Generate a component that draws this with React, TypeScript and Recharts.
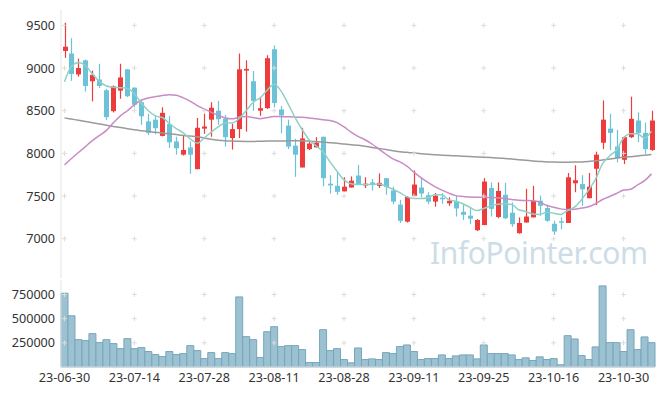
import React from 'react';
import {
  ComposedChart, Bar, Line, XAxis, YAxis, ReferenceDot,
} from 'recharts';

const dates = [
  '23-06-30', '23-07-03', '23-07-04', '23-07-05', '23-07-06', '23-07-07', '23-07-10', '23-07-11', '23-07-12', '23-07-13',
  '23-07-14', '23-07-17', '23-07-18', '23-07-19', '23-07-20', '23-07-21', '23-07-24', '23-07-25', '23-07-26', '23-07-27',
  '23-07-28', '23-07-31', '23-08-01', '23-08-02', '23-08-03', '23-08-04', '23-08-07', '23-08-08', '23-08-09', '23-08-10',
  '23-08-11', '23-08-14', '23-08-16', '23-08-17', '23-08-18', '23-08-21', '23-08-22', '23-08-23', '23-08-24', '23-08-25',
  '23-08-28', '23-08-29', '23-08-30', '23-08-31', '23-09-01', '23-09-04', '23-09-05', '23-09-06', '23-09-07', '23-09-08',
  '23-09-11', '23-09-12', '23-09-13', '23-09-14', '23-09-15', '23-09-18', '23-09-19', '23-09-20', '23-09-21', '23-09-22',
  '23-09-25', '23-09-26', '23-09-27', '23-10-04', '23-10-05', '23-10-06', '23-10-10', '23-10-11', '23-10-12', '23-10-13',
  '23-10-16', '23-10-17', '23-10-18', '23-10-19', '23-10-20', '23-10-23', '23-10-24', '23-10-25', '23-10-26', '23-10-27',
  '23-10-30', '23-10-31', '23-11-01', '23-11-02', '23-11-03',
];

const opens = [
  9200, 9170, 8925, 9090, 8845, 8865, 8740, 8495, 8735, 8985,
  8770, 8600, 8375, 8395, 8205, 8345, 8140, 7985, 8070, 7815,
  8290, 8395, 8500, 8405, 8180, 8285, 8970, 8845, 8500, 8530,
  9220, 8515, 8325, 8090, 7835, 8050, 8070, 8195, 7645, 7620,
  7555, 7600, 7740, 7625, 7660, 7620, 7710, 7565, 7400, 7200,
  7500, 7600, 7510, 7435, 7480, 7415, 7435, 7315, 7270, 7100,
  7160, 7595, 7255, 7515, 7305, 7065, 7190, 7250, 7445, 7360,
  7175, 7205, 7185, 7650, 7640, 7475, 7820, 8125, 8290, 8080,
  7925, 8190, 8385, 8240, 8040,
];
const highs = [
  9530, 9350, 9110, 9100, 8970, 9050, 8755, 8795, 9050, 8990,
  8775, 8620, 8465, 8445, 8540, 8435, 8195, 8210, 8140, 8415,
  8465, 8600, 8615, 8450, 8345, 9170, 9090, 8965, 8650, 9150,
  9265, 8555, 8395, 8170, 8300, 8150, 8190, 8195, 7745, 7780,
  7720, 7730, 7865, 7720, 7700, 7765, 7710, 7610, 7455, 7500,
  7800, 7720, 7545, 7535, 7535, 7485, 7505, 7405, 7360, 7230,
  7710, 7660, 7660, 7655, 7425, 7250, 7585, 7620, 7505, 7400,
  7210, 7250, 7770, 7860, 7745, 7770, 8020, 8620, 8465, 8275,
  8200, 8665, 8480, 8360, 8500,
];
const lows = [
  9120, 8850, 8900, 8725, 8610, 8765, 8390, 8480, 8640, 8660,
  8540, 8335, 8215, 8225, 8200, 8065, 7985, 7975, 7760, 7815,
  8230, 8195, 8335, 8080, 8045, 8180, 8255, 8500, 8440, 8520,
  8540, 8235, 8050, 7725, 7835, 8040, 8070, 7615, 7530, 7515,
  7555, 7600, 7630, 7595, 7565, 7595, 7515, 7405, 7185, 7190,
  7500, 7485, 7405, 7375, 7410, 7385, 7260, 7220, 7170, 7090,
  7160, 7260, 7240, 7230, 7140, 7060, 7190, 7250, 7270, 7200,
  7045, 7110, 7185, 7545, 7385, 7475, 7395, 8050, 8040, 7895,
  7875, 8180, 8130, 7995, 8030,
];
const closes = [
  9250, 8930, 9000, 8790, 8920, 8790, 8425, 8785, 8890, 8670,
  8570, 8435, 8240, 8295, 8475, 8130, 8060, 8040, 7985, 8300,
  8315, 8535, 8400, 8190, 8285, 8985, 8990, 8615, 8530, 9115,
  8590, 8445, 8080, 7985, 8175, 8115, 8125, 7710, 7625, 7550,
  7610, 7680, 7635, 7645, 7645, 7655, 7605, 7435, 7210, 7490,
  7635, 7530, 7435, 7505, 7470, 7445, 7355, 7280, 7235, 7220,
  7670, 7350, 7560, 7240, 7170, 7185, 7260, 7445, 7385, 7210,
  7085, 7195, 7720, 7685, 7580, 7610, 7985, 8395, 8240, 7945,
  8190, 8405, 8240, 8050, 8385,
];
const volumes = [
  763000, 530000, 283000, 273000, 345000, 252000, 283000, 242000, 190000, 293000,
  190000, 201000, 160000, 129000, 108000, 160000, 129000, 139000, 221000, 170000,
  87000, 149000, 87000, 149000, 139000, 725000, 314000, 283000, 98000, 365000,
  417000, 211000, 221000, 221000, 180000, 46000, 46000, 386000, 170000, 190000,
  77000, 43000, 197000, 77000, 84000, 77000, 149000, 139000, 211000, 228000,
  160000, 77000, 87000, 87000, 125000, 87000, 115000, 125000, 125000, 84000,
  228000, 139000, 139000, 139000, 125000, 77000, 95000, 67000, 105000, 77000,
  87000, 23000, 324000, 290000, 118000, 77000, 208000, 839000, 252000, 252000,
  160000, 386000, 180000, 311000, 252000,
];
const ma5 = [
  8840, 9020, 9065, 9030, 8930, 8840, 8790, 8775, 8770, 8760,
  8700, 8590, 8500, 8440, 8420, 8350, 8290, 8240, 8170, 8120,
  8180, 8250, 8310, 8360, 8355, 8410, 8500, 8600, 8650, 8740,
  8810, 8730, 8580, 8420, 8280, 8160, 8090, 8020, 7900, 7790,
  7690, 7645, 7635, 7635, 7635, 7640, 7615, 7580, 7540, 7490,
  7470, 7470, 7480, 7515, 7515, 7455, 7440, 7410, 7370, 7330,
  7355, 7385, 7405, 7410, 7400, 7340, 7320, 7290, 7285, 7310,
  7300, 7285, 7330, 7370, 7460, 7570, 7700, 7880, 7970, 8040,
  8180, 8230, 8230, 8180, 8260,
];
const ma20 = [
  7865, 7940, 8010, 8080, 8150, 8210, 8270, 8360, 8440, 8500,
  8570, 8625, 8650, 8665, 8678, 8686, 8680, 8650, 8610, 8560,
  8520, 8480, 8445, 8415, 8405, 8425, 8432, 8420, 8405, 8420,
  8432, 8430, 8428, 8425, 8422, 8415, 8405, 8395, 8385, 8360,
  8310, 8250, 8200, 8160, 8110, 8050, 7990, 7935, 7900, 7850,
  7780, 7715, 7660, 7610, 7570, 7535, 7505, 7495, 7490, 7487,
  7485, 7483, 7480, 7470, 7460, 7450, 7448, 7445, 7430, 7390,
  7370, 7350, 7342, 7345, 7360, 7375, 7410, 7460, 7495, 7530,
  7570, 7580, 7630, 7680, 7760,
];
const ma60 = [
  8416, 8402, 8388, 8374, 8360, 8345, 8330, 8316, 8302, 8290,
  8278, 8266, 8256, 8247, 8238, 8229, 8220, 8211, 8203, 8195,
  8180, 8165, 8155, 8148, 8144, 8141, 8140, 8140, 8142, 8144,
  8145, 8146, 8147, 8148, 8148, 8144, 8138, 8132, 8125, 8118,
  8110, 8102, 8095, 8083, 8070, 8058, 8045, 8032, 8020, 8012,
  8004, 7997, 7990, 7984, 7979, 7975, 7971, 7967, 7963, 7959,
  7955, 7951, 7947, 7940, 7933, 7926, 7919, 7912, 7906, 7900,
  7898, 7897, 7897, 7898, 7900, 7906, 7914, 7922, 7935, 7945,
  7954, 7962, 7970, 7978, 7986,
];

const priceTicks = [7000, 7500, 8000, 8500, 9000, 9500];
const volumeTicks = [250000, 500000, 750000];

const UP = '#ee3b3c';
const DOWN = '#6cc3d7';
const EDGE = '#e3e3e3';
const FONT = '"Noto Sans", sans-serif';

const rows = dates.map((date, i) => ({
  date,
  open: opens[i],
  high: highs[i],
  low: lows[i],
  close: closes[i],
  range: [lows[i], highs[i]],
  volume: volumes[i],
  ma5: ma5[i],
  ma20: ma20[i],
  ma60: ma60[i],
}));

const gridDates = dates.filter((_, i) => i % 10 === 0);

function Candle(props: any) {
  const { x, y, width, height, payload } = props;
  if (!payload) return null;
  const { open, close, high, low } = payload;
  const top = Math.min(y, y + height);
  const h = Math.abs(height);
  const k = high === low ? 0 : h / (high - low);
  const color = close >= open ? UP : DOWN;
  const bodyTop = top + (high - Math.max(open, close)) * k;
  const bodyH = Math.max(1.5, Math.abs(close - open) * k);
  const cx = Math.round(x + width / 2) + 0.5;
  return (
    <g>
      <line x1={cx} x2={cx} y1={top} y2={top + h} stroke={color} strokeWidth={1.2} />
      <rect x={cx - width / 2} y={bodyTop} width={width} height={bodyH} fill={color} />
    </g>
  );
}

function Plus(props: any) {
  const { cx, cy } = props;
  if (cx == null || cy == null) return null;
  return (
    <g stroke="#dcdcdc" strokeWidth={1}>
      <line x1={cx - 2.5} x2={cx + 2.5} y1={cy} y2={cy} />
      <line x1={cx} x2={cx} y1={cy - 2.5} y2={cy + 2.5} />
    </g>
  );
}

const tickStyle = { fill: '#333', fontSize: 12.6, fontFamily: FONT };

export default function App() {
  return (
    <div style={{ position: 'absolute', left: 0, top: 0, width: 665, height: 396, background: '#fff', fontFamily: FONT }}>
      <div
        style={{
          position: 'absolute', left: 430, top: 238, fontSize: 30, lineHeight: '30px', letterSpacing: -0.4,
          color: '#ccdde7', fontFamily: FONT, whiteSpace: 'nowrap',
        }}
      >
        InfoPointer.com
      </div>
      <div style={{ position: 'absolute', left: 0, top: 0 }}>
        <ComposedChart width={665} height={280} data={rows} margin={{ top: 10, right: 10, left: 0, bottom: 2 }}>
          <XAxis dataKey="date" height={0} tick={false} tickLine={false} axisLine={{ stroke: EDGE }} />
          <XAxis xAxisId="top" dataKey="date" orientation="top" height={0} tick={false} tickLine={false} axisLine={{ stroke: EDGE }} />
          <YAxis
            domain={[6540, 9680]}
            ticks={priceTicks}
            width={61}
            tick={tickStyle}
            tickLine={false}
            tickSize={4}
            tickMargin={2}
            axisLine={{ stroke: EDGE }}
            allowDataOverflow
          />
          <YAxis yAxisId="right" orientation="right" width={0} domain={[0, 1]} tick={false} tickLine={false} axisLine={{ stroke: EDGE }} />
          {gridDates.map(d => priceTicks.map(p => (
            <ReferenceDot key={d + p} x={d} y={p} r={0} shape={<Plus />} ifOverflow="visible" />
          )))}
          <Bar dataKey="range" barSize={5} shape={<Candle />} isAnimationActive={false} />
          <Line type="monotone" dataKey="ma60" stroke="#9a9a9a" strokeWidth={1.5} dot={false} activeDot={false} isAnimationActive={false} />
          <Line type="monotone" dataKey="ma20" stroke="#c98bc5" strokeWidth={1.5} dot={false} activeDot={false} isAnimationActive={false} />
          <Line type="monotone" dataKey="ma5" stroke="#8fd0c6" strokeWidth={1.5} dot={false} activeDot={false} isAnimationActive={false} />
        </ComposedChart>
      </div>
      <div style={{ position: 'absolute', left: 0, top: 280 }}>
        <ComposedChart width={665} height={116} data={rows} margin={{ top: 0, right: 10, left: 0, bottom: 5 }} barCategoryGap={0}>
          <XAxis
            dataKey="date"
            height={24}
            interval={9}
            tick={tickStyle}
            tickLine={false}
            tickSize={4}
            tickMargin={2}
            axisLine={{ stroke: EDGE }}
          />
          <YAxis
            domain={[0, 900000]}
            ticks={volumeTicks}
            width={61}
            tick={tickStyle}
            tickLine={false}
            tickSize={4}
            tickMargin={2}
            axisLine={{ stroke: EDGE }}
          />
          <YAxis yAxisId="right" orientation="right" width={0} domain={[0, 1]} tick={false} tickLine={false} axisLine={{ stroke: EDGE }} />
          {gridDates.map(d => volumeTicks.map(v => (
            <ReferenceDot key={d + v} x={d} y={v} r={0} shape={<Plus />} ifOverflow="visible" />
          )))}
          <Bar dataKey="volume" fill="#9cc2d2" stroke="#77a6bc" strokeWidth={1} isAnimationActive={false} />
        </ComposedChart>
      </div>
    </div>
  );
}
